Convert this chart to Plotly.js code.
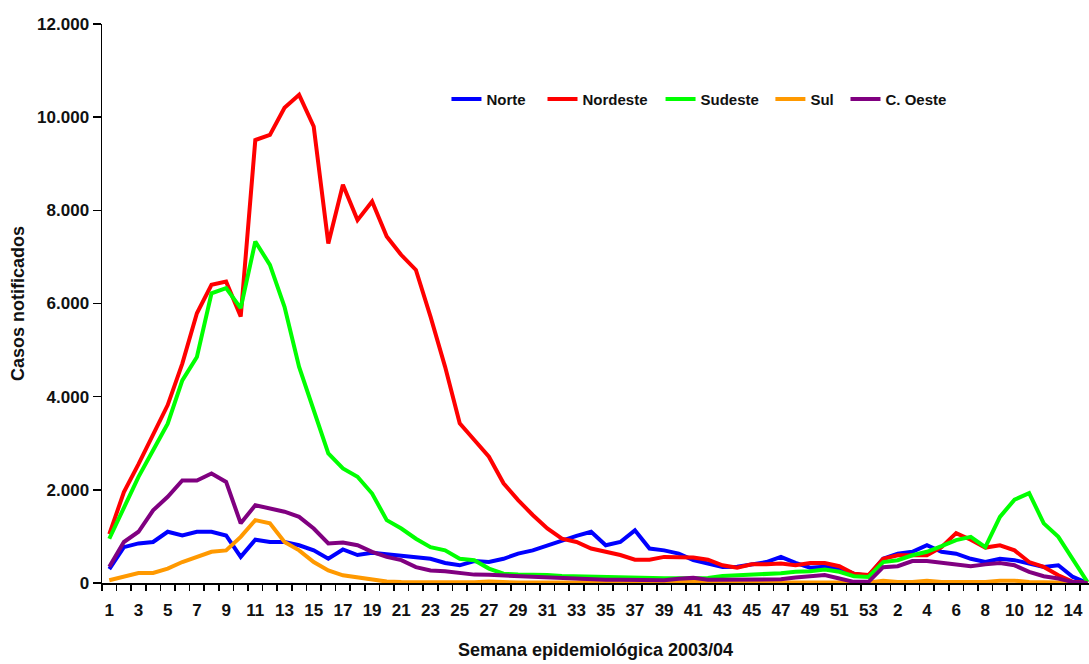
<!DOCTYPE html>
<html>
<head>
<meta charset="utf-8">
<script src="https://cdn.plot.ly/plotly-3.0.1.min.js"></script>
<style>
html,body{margin:0;padding:0;background:#fff;}
#chart{width:1089px;height:664px;}
</style>
</head>
<body>
<div id="chart"></div>
<script>
// Epidemiological weeks: 2003 weeks 1-53, then 2004 weeks 1-15
var weekLabels = [
  "1","2","3","4","5","6","7","8","9","10","11","12","13","14","15","16","17","18","19","20",
  "21","22","23","24","25","26","27","28","29","30","31","32","33","34","35","36","37","38","39","40",
  "41","42","43","44","45","46","47","48","49","50","51","52","53",
  "1","2","3","4","5","6","7","8","9","10","11","12","13","14","15"
];

var norte = [
  300, 770, 850, 880, 1100, 1020, 1100, 1100, 1020, 560,
  930, 880, 880, 810, 700, 520, 720, 600, 650, 620,
  600, 560, 520, 430, 380, 470, 450, 520, 630, 700,
  810, 920, 1010, 1100, 810, 880, 1130, 740, 700, 630,
  490, 420, 345, 350, 400, 450, 560, 430, 330, 350,
  310, 200, 150,
  520, 630, 670, 810, 670, 630, 520, 450, 520, 490, 420, 345, 380, 130, 0
];
var nordeste = [
  1050, 1950, 2550, 3200, 3820, 4710, 5790, 6400, 6470, 5720,
  9510, 9620, 10200, 10480, 9800, 7290, 8550, 7790, 8190, 7440,
  7040, 6720, 5720, 4640, 3430, 3070, 2710, 2140, 1780, 1460,
  1170, 950, 880, 740, 670, 600, 500, 500, 560, 560,
  545, 500, 380, 330, 400, 400, 420, 380, 430, 430,
  360, 200, 170,
  520, 595, 595, 595, 770, 1070, 930, 760, 810, 700, 450, 345, 165, 25, 0
];
var sudeste = [
  950, 1630, 2280, 2850, 3420, 4350, 4850, 6220, 6330, 5900,
  7330, 6830, 5930, 4640, 3710, 2780, 2460, 2280, 1920, 1350,
  1170, 950, 770, 700, 520, 490, 310, 200, 180, 180,
  170, 150, 140, 130, 120, 120, 120, 110, 100, 100,
  100, 110, 150, 160, 180, 200, 210, 240, 250, 290,
  240, 145, 130,
  450, 490, 595, 670, 790, 920, 990, 770, 1420, 1790, 1930, 1280, 990, 490, 20
];
var sul = [
  60, 130, 215, 215, 310, 450, 560, 670, 700, 990,
  1350, 1280, 880, 700, 450, 270, 165, 115, 80, 30,
  20, 15, 20, 20, 10, 15, 30, 10, 10, 10,
  15, 10, 10, 40, 10, 10, 10, 10, 10, 40,
  40, 10, 10, 10, 30, 30, 30, 20, 20, 20,
  20, 10, 10,
  50, 20, 20, 50, 20, 20, 20, 20, 50, 50, 20, 20, 10, 0, 0
];
var cOeste = [
  350, 880, 1100, 1560, 1850, 2200, 2200, 2350, 2170, 1280,
  1670, 1600, 1530, 1420, 1170, 850, 870, 810, 670, 560,
  490, 340, 270, 250, 215, 180, 175, 160, 150, 140,
  120, 100, 90, 80, 70, 70, 60, 60, 60, 90,
  110, 70, 70, 70, 70, 80, 80, 120, 150, 170,
  95, 25, 25,
  340, 360, 470, 470, 430, 380, 360, 400, 430, 380, 240, 145, 95, 20, 0
];

var seriesNames = ["Norte", "Nordeste", "Sudeste", "Sul", "C. Oeste"];
var seriesValues = [norte, nordeste, sudeste, sul, cOeste];
var seriesColors = ["#0000FF", "#FF0000", "#00FF00", "#FF9900", "#800080"];

var yTickValues = [0, 2000, 4000, 6000, 8000, 10000, 12000];

// numeric positions for each week (1..68)
var xIdx = weekLabels.map(function (_, i) { return i + 1; });
// labels shown on every other week
var xTickVals = xIdx.filter(function (v) { return v % 2 === 1; });
var xTickText = xTickVals.map(function (v) { return weekLabels[v - 1]; });
// tick marks sit between weeks
var xBoundaries = [0.5].concat(xIdx.map(function (v) { return v + 0.5; }));

// one legend per series so each entry sits where it does in the original
var legendIds = ["legend", "legend2", "legend3", "legend4", "legend5"];
var legendX = [0.349, 0.4463, 0.5659, 0.6772, 0.7533];

var font = "Liberation Sans, Arial, sans-serif";

var traces = seriesNames.map(function (name, k) {
  return {
    type: "scatter",
    mode: "lines",
    name: name,
    x: xIdx,
    y: seriesValues[k],
    legend: legendIds[k],
    line: { color: seriesColors[k], width: 4 },
    hoverinfo: "x+y+name"
  };
});

var layout = {
  width: 1089,
  height: 664,
  paper_bgcolor: "#ffffff",
  plot_bgcolor: "#ffffff",
  separators: ",.",
  margin: { l: 102, r: 0, t: 24, b: 81, pad: 0 },
  showlegend: true,
  xaxis: {
    range: [0.5, 68.1],
    showgrid: false,
    zeroline: false,
    showline: true,
    linecolor: "#000",
    linewidth: 1.5,
    tickmode: "array",
    tickvals: xTickVals,
    ticktext: xTickText,
    ticks: "",
    ticklabelstandoff: 11,
    tickfont: { family: font, size: 17, color: "#111", weight: "bold" },
    minor: {
      tickmode: "array",
      tickvals: xBoundaries,
      ticks: "outside",
      ticklen: 6,
      tickwidth: 1.5,
      tickcolor: "#000",
      showgrid: false
    },
    title: {
      text: "Semana epidemiológica 2003/04",
      font: { family: font, size: 18, color: "#111", weight: "bold" },
      standoff: 24
    }
  },
  yaxis: {
    range: [0, 12000],
    showgrid: false,
    zeroline: false,
    showline: true,
    linecolor: "#000",
    linewidth: 1.5,
    tickmode: "array",
    tickvals: yTickValues,
    tickformat: ",d",
    ticks: "outside",
    ticklen: 8,
    tickwidth: 1.5,
    tickcolor: "#000",
    tickfont: { family: font, size: 17, color: "#111", weight: "bold" },
    title: {
      text: "Casos notificados",
      font: { family: font, size: 18, color: "#111", weight: "bold" },
      standoff: 8
    }
  }
};

legendIds.forEach(function (id, k) {
  layout[id] = {
    orientation: "h",
    x: legendX[k], xanchor: "left",
    y: 0.895, yanchor: "top",
    font: { family: font, size: 15, color: "#111", weight: "bold" },
    bgcolor: "rgba(255,255,255,0)",
    borderwidth: 0
  };
});

Plotly.newPlot("chart", traces, layout, { staticPlot: true, displayModeBar: false });
</script>
</body>
</html>
